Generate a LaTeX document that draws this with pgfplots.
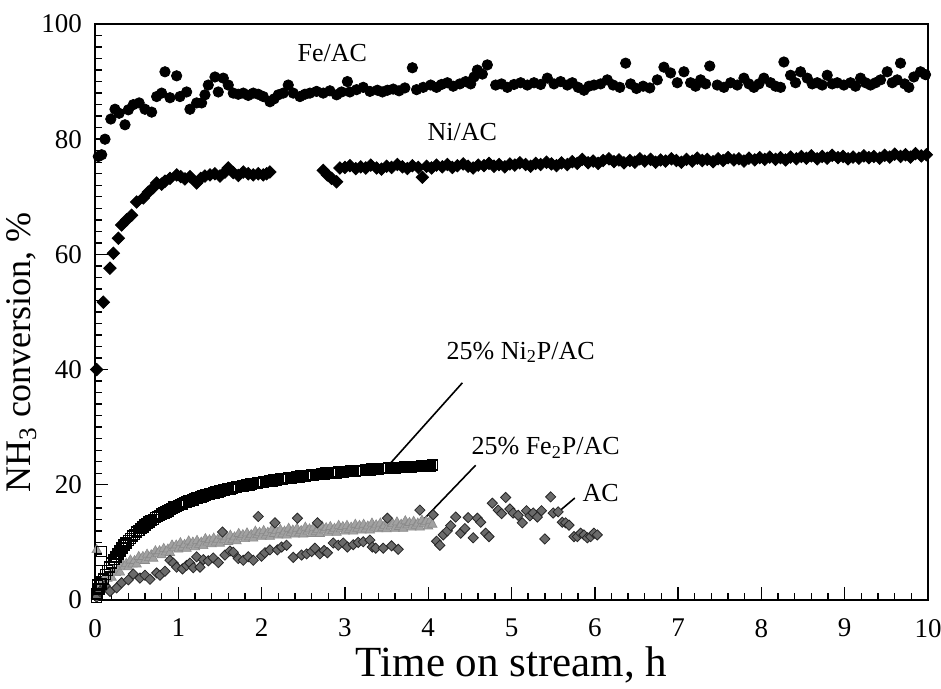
\documentclass[border=0pt]{standalone}
\usepackage{pgfplots}
\pgfplotsset{compat=1.18}
\usepackage{fontspec}
\setmainfont{Liberation Serif}
\definecolor{fetwop}{HTML}{A2A2A2}
\definecolor{acgray}{HTML}{6A6A6A}
\begin{document}
\begin{tikzpicture}
\useasboundingbox (-47.5pt,-44.5pt) rectangle (423pt,300pt);
\begin{axis}[
  scale only axis,
  width=416.5pt, height=288pt,
  xmin=0, xmax=10, ymin=0, ymax=100,
  xtick={0,1,...,10}, ytick={0,20,...,100},
  minor x tick num=4, minor y tick num=9,
  tick align=inside,
  xtick pos=left, ytick pos=left,
  major tick length=6.5pt, minor tick length=3.5pt,
  axis line style={line width=0.9pt},
  every tick/.style={black, line width=0.7pt},
  /pgf/number format/assume math mode=true,
  xticklabel style={font=\fontsize{13.5}{16}\selectfont, yshift=-6pt},
  yticklabel style={font=\fontsize{13.5}{16}\selectfont, xshift=-3pt},
  xlabel={Time on stream, h},
  ylabel={NH\textsubscript{3} conversion, \%},
  x label style={font=\fontsize{21.5}{25}\selectfont, at={(axis description cs:0.5,-0.113)}, anchor=center},
  y label style={font=\fontsize{18}{22}\selectfont, at={(axis description cs:-0.088,0.43)}, anchor=center},
  clip=false,
]
% 25% Fe2P/AC
\addplot[only marks, mark=triangle*, mark size=2.7pt, mark options={fill=fetwop, draw=fetwop!85!black, line width=0.3pt}] coordinates {
(0.01,0.8)(0.02,8.7)
(0.025,1.8)(0.05,1.7)(0.075,2.7)(0.1,2.4)(0.125,4.0)(0.15,3.7)(0.175,4.4)(0.2,3.9)(0.225,5.2)(0.25,4.7)
(0.275,5.3)(0.3,4.8)(0.325,6.3)(0.35,5.8)(0.375,6.3)(0.4,5.7)(0.425,6.9)(0.45,6.2)(0.475,6.8)(0.5,6.2)
(0.525,7.5)(0.55,7.0)(0.575,7.5)(0.6,6.8)(0.625,7.9)(0.65,7.3)(0.675,7.8)(0.7,7.2)(0.725,8.5)(0.75,8.0)
(0.775,8.5)(0.8,7.8)(0.825,8.9)(0.85,8.3)(0.875,8.8)(0.9,8.2)(0.925,9.5)(0.95,9.0)(0.975,9.5)(1.0,8.8)
(1.025,9.9)(1.05,9.1)(1.075,9.6)(1.1,8.9)(1.125,10.2)(1.15,9.5)(1.175,10.0)(1.2,9.2)(1.225,10.3)(1.25,9.6)
(1.275,10.0)(1.3,9.4)(1.325,10.6)(1.35,10.0)(1.375,10.4)(1.4,9.7)(1.425,10.7)(1.45,10.0)(1.475,10.5)(1.5,9.8)
(1.525,11.1)(1.55,10.4)(1.575,10.9)(1.6,10.1)(1.625,11.2)(1.65,10.4)(1.675,10.9)(1.7,10.2)(1.725,11.5)(1.75,10.9)
(1.775,11.3)(1.8,10.6)(1.825,11.6)(1.85,10.9)(1.875,11.3)(1.9,10.7)(1.925,11.9)(1.95,11.3)(1.975,11.7)(2.0,11.0)
(2.025,12.0)(2.05,11.2)(2.075,11.7)(2.1,11.0)(2.125,12.2)(2.15,11.5)(2.175,12.0)(2.2,11.2)(2.225,12.2)(2.25,11.4)
(2.275,11.9)(2.3,11.2)(2.325,12.4)(2.35,11.7)(2.375,12.1)(2.4,11.4)(2.425,12.4)(2.45,11.6)(2.475,12.0)(2.5,11.4)
(2.525,12.6)(2.55,11.9)(2.575,12.3)(2.6,11.5)(2.625,12.6)(2.65,11.8)(2.675,12.2)(2.7,11.5)(2.725,12.8)(2.75,12.1)
(2.775,12.5)(2.8,11.7)(2.825,12.7)(2.85,12.0)(2.875,12.4)(2.9,11.7)(2.925,12.9)(2.95,12.3)(2.975,12.7)(3.0,11.9)
(3.025,12.9)(3.05,12.2)(3.075,12.6)(3.1,11.9)(3.125,13.1)(3.15,12.4)(3.175,12.9)(3.2,12.1)(3.225,13.1)(3.25,12.3)
(3.275,12.8)(3.3,12.1)(3.325,13.3)(3.35,12.6)(3.375,13.0)(3.4,12.3)(3.425,13.3)(3.45,12.5)(3.475,12.9)(3.5,12.3)
(3.525,13.5)(3.55,12.8)(3.575,13.2)(3.6,12.4)(3.625,13.5)(3.65,12.7)(3.675,13.1)(3.7,12.4)(3.725,13.7)(3.75,13.0)
(3.775,13.4)(3.8,12.6)(3.825,13.6)(3.85,12.9)(3.875,13.3)(3.9,12.6)(3.925,13.8)(3.95,13.2)(3.975,13.6)(4.0,12.8)
(4.025,13.8)(4.05,13.1)
};
% AC
\addplot[only marks, mark=square*, mark size=1.8pt, mark options={rotate=45, fill=acgray, draw=black!85, line width=0.4pt}] coordinates {
(0.02,0.5)(0.06,1.5)(0.12,2.5)(0.18,1.5)(0.26,2.1)(0.32,3.0)(0.40,3.5)(0.46,4.5)(0.54,3.8)(0.60,4.3)
(0.66,3.6)(0.74,4.7)(0.78,4.3)(0.84,5.0)(0.90,6.9)(0.94,6.4)(0.98,5.7)(1.05,5.4)(1.10,6.0)(1.14,6.4)
(1.18,5.6)(1.22,7.5)(1.26,5.7)(1.30,7.0)(1.36,6.8)(1.42,7.3)(1.48,6.5)(1.53,11.8)(1.56,7.8)(1.62,8.5)
(1.66,8.3)(1.72,7.2)(1.78,6.9)(1.84,7.5)(1.90,6.9)(1.96,14.5)(2.00,7.6)(2.04,8.2)(2.10,8.7)(2.16,13.4)
(2.19,8.7)(2.24,9.2)(2.30,9.5)(2.38,7.4)(2.43,14.2)(2.48,7.8)(2.54,8.0)(2.60,8.4)(2.64,9.0)(2.67,13.4)
(2.70,8.0)(2.75,8.6)(2.79,8.2)(2.86,9.9)(2.92,9.5)(2.98,9.9)(3.03,9.2)(3.10,9.6)(3.16,10.0)(3.22,10.1)
(3.30,10.4)(3.33,9.2)(3.37,9.0)(3.46,9.0)(3.51,14.2)(3.56,9.4)(3.64,8.8)(3.90,15.6)(4.06,14.8)(4.10,10.2)
(4.14,9.5)(4.18,11.3)(4.23,12.0)(4.27,12.9)(4.33,14.4)(4.39,11.6)(4.44,12.4)(4.48,14.3)(4.54,10.8)(4.59,14.2)
(4.63,13.5)(4.69,11.6)(4.73,11.0)(4.77,16.8)(4.84,15.6)(4.88,15.0)(4.93,17.8)(4.98,15.8)(5.02,15.1)(5.08,14.7)
(5.13,13.4)(5.18,15.5)(5.22,14.6)(5.26,15.1)(5.31,14.4)(5.36,15.5)(5.40,10.6)(5.47,17.9)(5.50,15.1)(5.56,15.3)
(5.61,13.5)(5.65,13.4)(5.69,13.0)(5.75,11.0)(5.79,11.0)(5.83,11.6)(5.87,11.3)(5.91,10.8)(5.95,11.0)(5.99,11.6)
(6.03,11.3)
};
% 25% Ni2P/AC
\addplot[only marks, mark=square, mark size=2.5pt, mark options={draw=black, line width=0.8pt}] coordinates {
(0.02,0.4)(0.08,8.4)(0.03,2.6)
(0.025,1.0)(0.05,1.9)(0.075,2.8)(0.1,3.6)(0.125,4.4)(0.15,5.1)(0.175,5.7)(0.2,6.4)(0.225,7.0)(0.25,7.5)
(0.275,8.0)(0.3,8.5)(0.325,9.0)(0.35,9.5)(0.375,9.9)(0.4,10.3)(0.425,10.7)(0.45,11.1)(0.475,11.4)(0.5,11.8)
(0.525,12.1)(0.55,12.4)(0.575,12.7)(0.6,13.0)(0.625,13.3)(0.65,13.5)(0.675,13.8)(0.7,14.0)(0.725,14.3)(0.75,14.5)
(0.775,14.7)(0.8,14.9)(0.825,15.1)(0.85,15.3)(0.875,15.5)(0.9,15.7)(0.925,15.9)(0.95,16.1)(0.975,16.2)(1.0,16.4)
(1.025,16.6)(1.05,16.7)(1.075,16.9)(1.1,17.0)(1.125,17.2)(1.15,17.3)(1.175,17.4)(1.2,17.6)(1.225,17.7)(1.25,17.8)
(1.275,17.9)(1.3,18.1)(1.325,18.2)(1.35,18.3)(1.375,18.4)(1.4,18.5)(1.425,18.6)(1.45,18.7)(1.475,18.8)(1.5,18.9)
(1.525,19.0)(1.55,19.1)(1.575,19.2)(1.6,19.3)(1.625,19.3)(1.65,19.4)(1.675,19.5)(1.7,19.6)(1.725,19.7)(1.75,19.7)
(1.775,19.8)(1.8,19.9)(1.825,20.0)(1.85,20.0)(1.875,20.1)(1.9,20.2)(1.925,20.2)(1.95,20.3)(1.975,20.4)(2.0,20.4)
(2.025,20.5)(2.05,20.6)(2.075,20.6)(2.1,20.7)(2.125,20.7)(2.15,20.8)(2.175,20.8)(2.2,20.9)(2.225,21.0)(2.25,21.0)
(2.275,21.1)(2.3,21.1)(2.325,21.2)(2.35,21.2)(2.375,21.3)(2.4,21.3)(2.425,21.4)(2.45,21.4)(2.475,21.5)(2.5,21.5)
(2.525,21.5)(2.55,21.6)(2.575,21.6)(2.6,21.7)(2.625,21.7)(2.65,21.8)(2.675,21.8)(2.7,21.8)(2.725,21.9)(2.75,21.9)
(2.775,22.0)(2.8,22.0)(2.825,22.0)(2.85,22.1)(2.875,22.1)(2.9,22.1)(2.925,22.2)(2.95,22.2)(2.975,22.2)(3.0,22.3)
(3.025,22.3)(3.05,22.3)(3.075,22.4)(3.1,22.4)(3.125,22.4)(3.15,22.5)(3.175,22.5)(3.2,22.5)(3.225,22.5)(3.25,22.6)
(3.275,22.6)(3.3,22.6)(3.325,22.7)(3.35,22.7)(3.375,22.7)(3.4,22.7)(3.425,22.8)(3.45,22.8)(3.475,22.8)(3.5,22.8)
(3.525,22.9)(3.55,22.9)(3.575,22.9)(3.6,22.9)(3.625,23.0)(3.65,23.0)(3.675,23.0)(3.7,23.0)(3.725,23.1)(3.75,23.1)
(3.775,23.1)(3.8,23.1)(3.825,23.2)(3.85,23.2)(3.875,23.2)(3.9,23.2)(3.925,23.3)(3.95,23.3)(3.975,23.3)(4.0,23.3)
(4.025,23.3)(4.05,23.4)
};
% Fe/AC
\addplot[only marks, mark=*, mark size=2.6pt, mark options={fill=black, draw=black}] coordinates {
(0.04,77.0)(0.08,77.3)(0.12,80.0)(0.19,83.5)(0.24,85.2)(0.29,84.5)(0.36,82.5)(0.40,85.1)(0.46,86.0)(0.53,86.3)
(0.60,85.2)(0.68,84.7)(0.74,87.4)(0.80,88.0)(0.84,91.7)(0.90,87.2)(0.98,91.0)(1.02,87.4)(1.10,88.2)(1.14,85.2)
(1.22,86.3)(1.28,86.3)(1.32,87.7)(1.36,89.4)(1.44,90.8)(1.48,88.2)(1.54,90.6)(1.60,89.4)(1.66,88.0)(1.72,87.8)
(1.78,88.0)(1.84,87.6)(1.90,88.0)(1.96,87.8)(2.02,87.4)(2.10,86.5)(2.15,87.0)(2.20,87.7)(2.26,88.0)(2.32,89.4)
(2.38,88.0)(2.46,87.4)(2.52,87.8)(2.58,88.0)(2.66,88.3)(2.74,88.0)(2.82,88.4)(2.90,87.7)(2.96,88.2)(3.03,90.0)
(3.06,88.2)(3.14,88.6)(3.22,89.0)(3.30,88.3)(3.39,88.5)(3.45,88.2)(3.51,88.5)(3.58,88.7)(3.65,88.4)(3.72,88.9)
(3.81,92.4)(3.86,88.6)(3.94,89.0)(4.03,89.4)(4.10,89.0)(4.16,89.5)(4.23,89.8)(4.30,89.2)(4.38,89.6)(4.45,90.0)
(4.51,89.6)(4.55,90.8)(4.59,92.0)(4.65,91.3)(4.71,92.9)(4.81,89.4)(4.88,89.6)(4.95,89.0)(5.03,89.5)(5.11,89.8)
(5.19,89.4)(5.27,89.8)(5.35,89.5)(5.43,90.6)(5.51,89.6)(5.59,90.0)(5.67,89.4)(5.73,89.8)(5.80,89.0)(5.87,88.5)
(5.93,89.2)(5.99,89.4)(6.07,89.6)(6.15,90.3)(6.22,89.4)(6.30,89.0)(6.37,93.2)(6.43,89.6)(6.50,88.8)(6.58,89.2)
(6.66,88.9)(6.75,90.3)(6.83,92.5)(6.91,91.5)(6.99,89.8)(7.07,91.7)(7.15,89.8)(7.21,89.2)(7.27,90.3)(7.33,89.6)
(7.38,92.7)(7.47,89.4)(7.55,89.0)(7.63,89.8)(7.71,89.4)(7.79,90.6)(7.85,89.6)(7.91,89.0)(7.97,89.6)(8.03,90.6)
(8.11,89.8)(8.17,89.2)(8.23,89.0)(8.27,93.4)(8.35,91.1)(8.41,89.8)(8.47,91.7)(8.55,90.6)(8.61,89.6)(8.67,89.8)
(8.73,89.4)(8.79,91.1)(8.85,89.6)(8.91,89.8)(8.99,89.4)(9.07,89.8)(9.13,89.2)(9.19,90.6)(9.25,89.8)(9.31,89.4)
(9.37,89.8)(9.43,90.3)(9.51,91.7)(9.57,89.8)(9.63,90.3)(9.67,93.2)(9.72,89.6)(9.77,89.0)(9.83,90.8)(9.91,91.7)
(9.97,91.2)
};
% Ni/AC
\addplot[only marks, mark=square*, mark size=2.2pt, mark options={rotate=45, fill=black, draw=black}] coordinates {
(0.02,40.0)(0.10,51.7)(0.18,57.6)(0.22,60.2)(0.28,62.8)(0.32,65.1)(0.38,66.0)(0.44,66.8)(0.50,69.1)(0.58,69.8)
(0.64,70.8)(0.70,71.6)(0.74,72.4)(0.80,72.2)(0.84,72.7)(0.90,73.2)(0.98,73.8)(1.03,73.5)(1.08,73.1)(1.14,73.5)
(1.22,72.4)(1.27,73.2)(1.32,73.6)(1.38,73.8)(1.44,74.0)(1.50,73.6)(1.56,74.3)(1.60,75.0)(1.66,74.2)(1.72,73.7)
(1.78,74.3)(1.84,74.0)(1.90,73.8)(1.96,74.0)(2.02,73.8)(2.06,74.0)(2.10,74.3)
(2.74,74.6)(2.79,73.8)(2.84,73.2)(2.90,72.6)(2.94,75.0)
(3.00,75.1)(3.06,75.4)(3.13,74.9)(3.19,75.2)(3.25,75.0)(3.31,75.5)(3.38,75.0)(3.44,74.8)(3.50,75.3)(3.56,75.1)
(3.63,75.6)(3.69,75.2)(3.75,74.9)(3.81,75.4)(3.88,75.1)(3.93,73.4)(3.98,75.3)(4.04,75.0)(4.10,75.5)(4.17,75.2)
(4.23,75.6)(4.29,75.1)(4.35,75.4)(4.42,75.7)(4.48,75.3)(4.54,75.0)(4.60,75.5)(4.67,75.4)(4.73,75.8)(4.79,75.3)
(4.85,75.6)(4.92,75.2)(4.98,75.7)(5.04,75.5)(5.10,75.9)(5.17,75.6)(5.23,75.3)(5.29,75.8)(5.35,75.6)(5.42,76.0)
(5.48,75.7)(5.54,75.4)(5.60,75.9)(5.67,75.6)(5.73,76.1)(5.79,75.8)(5.85,76.5)(5.92,75.9)(5.98,76.2)(6.04,75.8)
(6.10,76.3)(6.17,76.6)(6.23,76.1)(6.29,76.4)(6.35,75.9)(6.42,76.3)(6.48,76.0)(6.54,76.6)(6.60,76.2)(6.67,76.5)
(6.73,76.0)(6.79,76.4)(6.85,76.2)(6.92,76.6)(6.98,76.3)(7.04,76.0)(7.10,76.5)(7.17,76.2)(7.23,76.7)(7.29,76.3)
(7.35,76.5)(7.42,76.1)(7.48,76.6)(7.54,76.3)(7.60,76.8)(7.67,76.4)(7.73,76.6)(7.79,76.2)(7.85,76.7)(7.92,76.4)
(7.98,76.8)(8.04,76.5)(8.10,76.9)(8.17,76.5)(8.23,76.8)(8.29,76.4)(8.35,76.9)(8.42,76.6)(8.48,77.0)(8.54,76.7)
(8.60,77.1)(8.67,76.6)(8.73,77.0)(8.79,76.7)(8.85,77.2)(8.92,76.8)(8.98,77.0)(9.04,76.6)(9.10,76.9)(9.17,76.7)
(9.23,77.1)(9.29,76.8)(9.35,77.0)(9.42,76.7)(9.48,77.2)(9.54,76.9)(9.60,77.4)(9.67,77.0)(9.73,77.3)(9.79,76.9)
(9.85,77.5)(9.92,77.1)(9.98,77.3)
};
% leader lines
\draw[line width=0.8pt] (axis cs:3.55,23.8) -- (axis cs:4.41,37.7);
\draw[line width=0.8pt] (axis cs:3.88,13.0) -- (axis cs:4.57,23.4);
\draw[line width=0.8pt] (axis cs:5.49,14.4) -- (axis cs:5.76,17.7);
% labels
\node[font=\fontsize{13}{15}\selectfont] at (axis cs:2.85,95) {Fe/AC};
\node[font=\fontsize{13}{15}\selectfont] at (axis cs:4.41,81.2) {Ni/AC};
\node[font=\fontsize{13}{15}\selectfont] at (axis cs:5.11,43) {25\% Ni\textsubscript{2}P/AC};
\node[font=\fontsize{13}{15}\selectfont] at (axis cs:5.41,26.4) {25\% Fe\textsubscript{2}P/AC};
\node[font=\fontsize{13}{15}\selectfont] at (axis cs:6.07,18.6) {AC};
\end{axis}
\end{tikzpicture}
\end{document}
